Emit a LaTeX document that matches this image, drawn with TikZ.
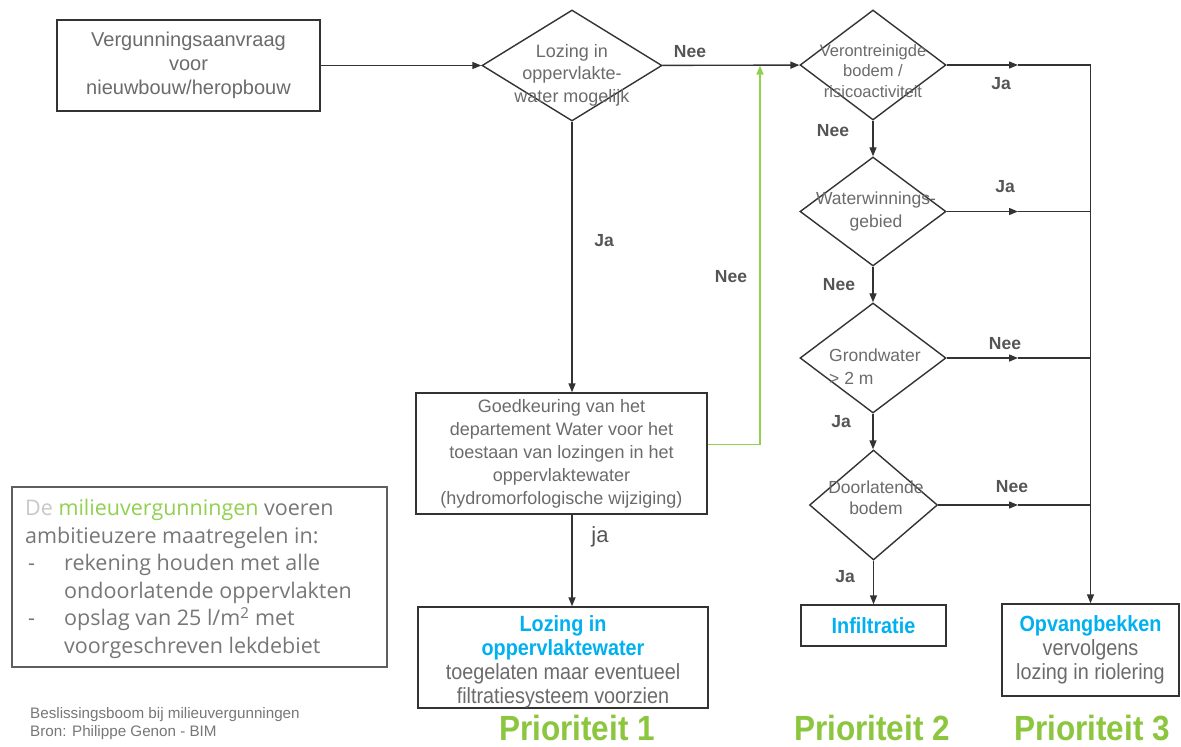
\documentclass[tikz,border=0pt]{standalone}
\usepackage{fontspec}
\setmainfont{Liberation Sans}
\newfontfamily\narrowf[FakeStretch=0.9]{Liberation Sans}
\newfontfamily\segf{Open Sans}
\usetikzlibrary{shapes.geometric,arrows.meta,calc}
\definecolor{txtgray}{HTML}{6B6B6B}
\definecolor{lblgray}{HTML}{555555}
\definecolor{linecol}{HTML}{333333}
\definecolor{cyanb}{HTML}{00B0F0}
\definecolor{prigreen}{HTML}{8CC63F}
\definecolor{linegreen}{HTML}{92D050}
\definecolor{notegray}{HTML}{777777}
\definecolor{lightgr}{HTML}{C8C8C8}
\tikzset{
  flowbox/.style={draw=linecol, line width=1.4pt, inner sep=0pt, align=center, text=txtgray},
  decision/.style={diamond, draw=linecol, line width=1.4pt, inner sep=0pt},
  dtext/.style={align=center, text=txtgray, inner sep=0pt},
  lbl/.style={text=lblgray, font=\fontsize{17.5}{20}\selectfont\bfseries, inner sep=0pt},
  conn/.style={draw=linecol, line width=1.4pt},
  arr/.style={conn, -{Triangle[length=9pt,width=7pt]}},
  garr/.style={draw=linegreen, line width=1.4pt, -{Triangle[length=9pt,width=7pt]}},
  prio/.style={text=prigreen, font=\narrowf\fontsize{35}{38}\selectfont\bfseries, inner sep=0pt},
}
\begin{document}
\begin{tikzpicture}[x=1pt,y=-1pt]
\useasboundingbox[fill=white] (0,0) rectangle (1181,747);

% boxes
\node[flowbox, minimum width=263pt, minimum height=91pt, font=\fontsize{20}{24}\selectfont] (b1) at (188.5,65.5)
  {Vergunningsaanvraag\\voor\\nieuwbouw/heropbouw};

\node[decision, minimum width=180pt, minimum height=111pt] (d1) at (572,65.5) {};
\node[dtext, font=\fontsize{18}{22.5}\selectfont] (d1t) at (572,75) {Lozing in\\oppervlakte-\\water mogelijk};

\node[decision, minimum width=146pt, minimum height=110pt] (d2) at (873,65) {};
\node[dtext, font=\fontsize{16.5}{20.5}\selectfont] (d2t) at (873,71) {Verontreinigde\\bodem /\\risicoactiviteit};

\node[decision, minimum width=146pt, minimum height=109pt] (d3) at (873,211.5) {};
\node[dtext, font=\fontsize{17.5}{23}\selectfont] (d3t) at (876,211.5) {Waterwinnings-\\gebied};

\node[decision, minimum width=146pt, minimum height=110pt] (d4) at (873,358) {};
\node[dtext, align=left, anchor=west, font=\fontsize{17.5}{23}\selectfont] (d4t) at (829,366.5) {Grondwater\\> 2 m};

\node[decision, minimum width=128pt, minimum height=110pt] (d5) at (873.5,505) {};
\node[dtext, font=\fontsize{17.5}{21}\selectfont] (d5t) at (876,497.5) {Doorlatende\\bodem};

\node[flowbox, minimum width=291pt, minimum height=121pt, font=\fontsize{18}{23}\selectfont] (g) at (561.5,453.5)
  {Goedkeuring van het\\departement Water voor het\\toestaan van lozingen in het\\oppervlaktewater\\(hydromorfologische wijziging)};

\node[flowbox, minimum width=290pt, minimum height=101pt] (b4) at (563,657.5) {};
\node[dtext, font=\narrowf\fontsize{22}{24}\selectfont] (b4t) at (563,662)
  {\textcolor{cyanb}{\bfseries Lozing in}\\\textcolor{cyanb}{\bfseries oppervlaktewater}\\toegelaten maar eventueel\\filtratiesysteem voorzien};

\node[flowbox, minimum width=145pt, minimum height=41pt, font=\narrowf\fontsize{22}{24}\selectfont] (inf) at (873.5,625.5)
  {\textcolor{cyanb}{\bfseries Infiltratie}};

\node[flowbox, minimum width=177pt, minimum height=92pt, font=\narrowf\fontsize{22}{24}\selectfont] (b3) at (1090.5,650)
  {\textcolor{cyanb}{\bfseries Opvangbekken}\\vervolgens\\lozing in riolering};

% connectors
\draw[arr] (b1) -- (d1);
\draw[arr] (d1) -- (d2);
\node[lbl] (l1) at (690,52) {Nee};

\coordinate (j1) at (b3.north |- d2.east);
\coordinate (m1) at (1018,65);
\draw[arr] (d2.east) -- (m1);
\draw[conn] (m1) -- (j1);
\draw[arr] (j1) -- (b3.north);
\node[lbl] (l2) at (1001,84) {Ja};

\draw[arr] (d2) -- (d3);
\node[lbl] (l3) at (833,131) {Nee};
\coordinate (m2) at (1018,211.5);
\coordinate (j2) at (b3.north |- d3.east);
\draw[arr] (d3.east) -- (m2);
\draw[conn] (m2) -- (j2);
\node[lbl] (l4) at (1005,187) {Ja};

\draw[arr] (d3) -- (d4);
\node[lbl] (l5) at (839,285) {Nee};
\coordinate (m3) at (1018,358);
\coordinate (j3) at (b3.north |- d4.east);
\draw[arr] (d4.east) -- (m3);
\draw[conn] (m3) -- (j3);
\node[lbl] (l6) at (1005,344) {Nee};

\draw[arr] (d4.south) -- (d4.south |- d5.north);
\node[lbl] (l7) at (841,422) {Ja};
\coordinate (m4) at (1018,505);
\coordinate (j4) at (b3.north |- d5.east);
\draw[arr] (d5.east) -- (m4);
\draw[conn] (m4) -- (j4);
\node[lbl] (l8) at (1012,487) {Nee};

\draw[arr] (d5) -- (inf);
\node[lbl] (l9) at (845,577) {Ja};

\draw[arr] (d1.south) -- (d1.south |- g.north);
\node[lbl] (l10) at (604,241) {Ja};

\coordinate (gq) at (760,65.5);
\draw[garr] ($(g.east)+(0,-9)$) -| (gq);
\node[lbl] (l11) at (731,277) {Nee};

\draw[arr] (d1.south |- g.south) -- (d1.south |- b4.north);
\node[text=lblgray, font=\fontsize{22}{24}\selectfont, inner sep=0pt] (l12) at (600,537) {ja};

% priorities
\node[prio] (p1) at (577,728) {Prioriteit 1};
\node[prio] (p2) at (872,728) {Prioriteit 2};
\node[prio] (p3) at (1092,728) {Prioriteit 3};

% note box
\node[draw=notegray!80!black, line width=2.8pt, minimum width=375pt, minimum height=180pt, inner sep=0pt] (note) at (199.5,577) {};
\node[anchor=north west, align=left, inner sep=0pt, text=notegray, font=\segf\fontsize{21.5}{27.5}\selectfont] (notet) at (25,499)
  {\textcolor{lightgr}{De} \textcolor{linegreen}{milieuvergunningen} voeren\\
   ambitieuzere maatregelen in:\\
   \makebox[39pt][l]{\hspace*{3pt}-}rekening houden met alle\\
   \hspace*{39pt}ondoorlatende oppervlakten\\
   \makebox[39pt][l]{\hspace*{3pt}-}opslag van 25 l/m\textsuperscript{2} met\\
   \hspace*{39pt}voorgeschreven lekdebiet};

\node[anchor=west, align=left, inner sep=0pt, text=notegray, font=\fontsize{15.2}{18}\selectfont] (cap) at (30,724)
  {Beslissingsboom bij milieuvergunningen\\Bron: Philippe Genon - BIM};
\end{tikzpicture}
\end{document}
